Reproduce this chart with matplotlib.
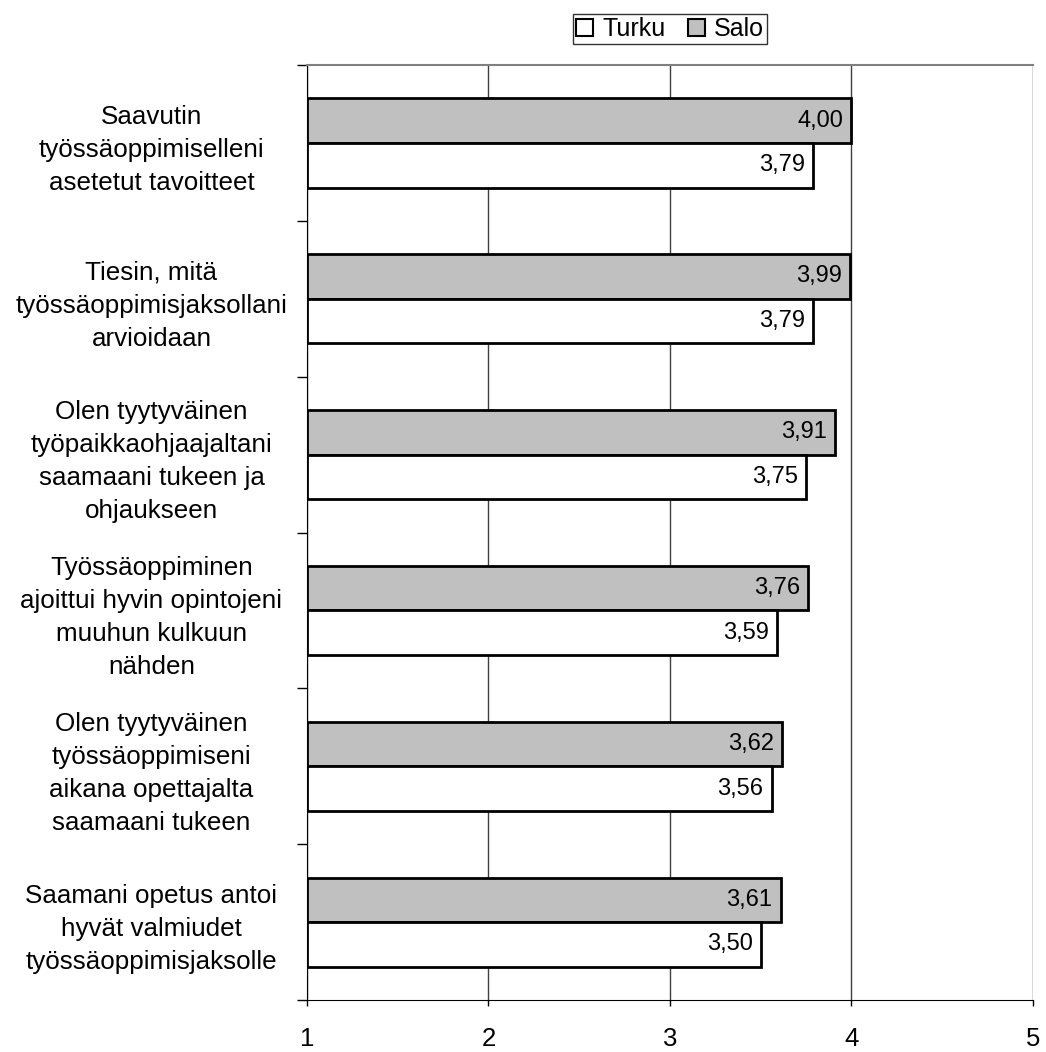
import numpy as np
import matplotlib.pyplot as plt
from matplotlib.patches import Patch

plt.rcParams['font.family'] = ['Liberation Sans', 'DejaVu Sans']

categories = ['Saavutin\ntyössäoppimiselleni\nasetetut tavoitteet',
              'Tiesin, mitä\ntyössäoppimisjaksollani\narvioidaan',
              'Olen tyytyväinen\ntyöpaikkaohjaajaltani\nsaamaani tukeen ja\nohjaukseen',
              'Työssäoppiminen\najoittui hyvin opintojeni\nmuuhun kulkuun\nnähden',
              'Olen tyytyväinen\ntyössäoppimiseni\naikana opettajalta\nsaamaani tukeen',
              'Saamani opetus antoi\nhyvät valmiudet\ntyössäoppimisjaksolle']
salo = [4.00, 3.99, 3.91, 3.76, 3.62, 3.61]
turku = [3.79, 3.79, 3.75, 3.59, 3.56, 3.50]
xticks = [1, 2, 3, 4, 5]

fig = plt.figure(figsize=(10.46, 10.52), dpi=100)
ax = fig.add_axes([0.2935, 0.0494, 0.694, 0.8888])

y = np.arange(len(categories))
h = 0.286
ax.barh(y - h / 2, np.array(salo) - 1, height=h, left=1, color='#c0c0c0', edgecolor='black', linewidth=2, zorder=3)
ax.barh(y + h / 2, np.array(turku) - 1, height=h, left=1, color='white', edgecolor='black', linewidth=2, zorder=3)

for i in range(len(categories)):
    ax.text(salo[i] - 0.045, y[i] - h / 2, f'{salo[i]:.2f}'.replace('.', ','), ha='right', va='center', fontsize=17, zorder=4)
    ax.text(turku[i] - 0.045, y[i] + h / 2, f'{turku[i]:.2f}'.replace('.', ','), ha='right', va='center', fontsize=17, zorder=4)

ax.set_xlim(1, 5)
ax.set_ylim(len(categories) - 0.5, -0.5)
ax.set_xticks(xticks)
ax.set_xticklabels([str(v) for v in xticks], fontsize=18.5)
ax.tick_params(axis='x', length=4.5, width=1, pad=15)
ax.grid(axis='x', color='#404040', linewidth=1, zorder=0)

ax.set_yticks(y)
ax.set_yticklabels(categories, fontsize=18.7, ha='center', linespacing=1.47)
ax.tick_params(axis='y', length=0, pad=112)
ax.set_yticks(np.arange(-0.5, len(categories)), minor=True)
ax.tick_params(axis='y', which='minor', length=7, width=1, color='black')

ax.spines['top'].set_color('#808080')
ax.spines['top'].set_linewidth(1.5)
ax.spines['right'].set_visible(False)
ax.spines['left'].set_color('black')
ax.spines['bottom'].set_color('black')

handles = [Patch(facecolor='white', edgecolor='black', linewidth=1.5, label='Turku'),
           Patch(facecolor='#c0c0c0', edgecolor='black', linewidth=1.5, label='Salo')]
fig.legend(handles=handles, loc='center', bbox_to_anchor=(0.6405, 0.9724), ncol=2, fontsize=18,
           frameon=True, fancybox=False, edgecolor='black', handlelength=0.7, handleheight=0.7,
           handletextpad=0.35, columnspacing=0.9, borderpad=0.12, borderaxespad=0)

fig.savefig('out.png', dpi=100)
